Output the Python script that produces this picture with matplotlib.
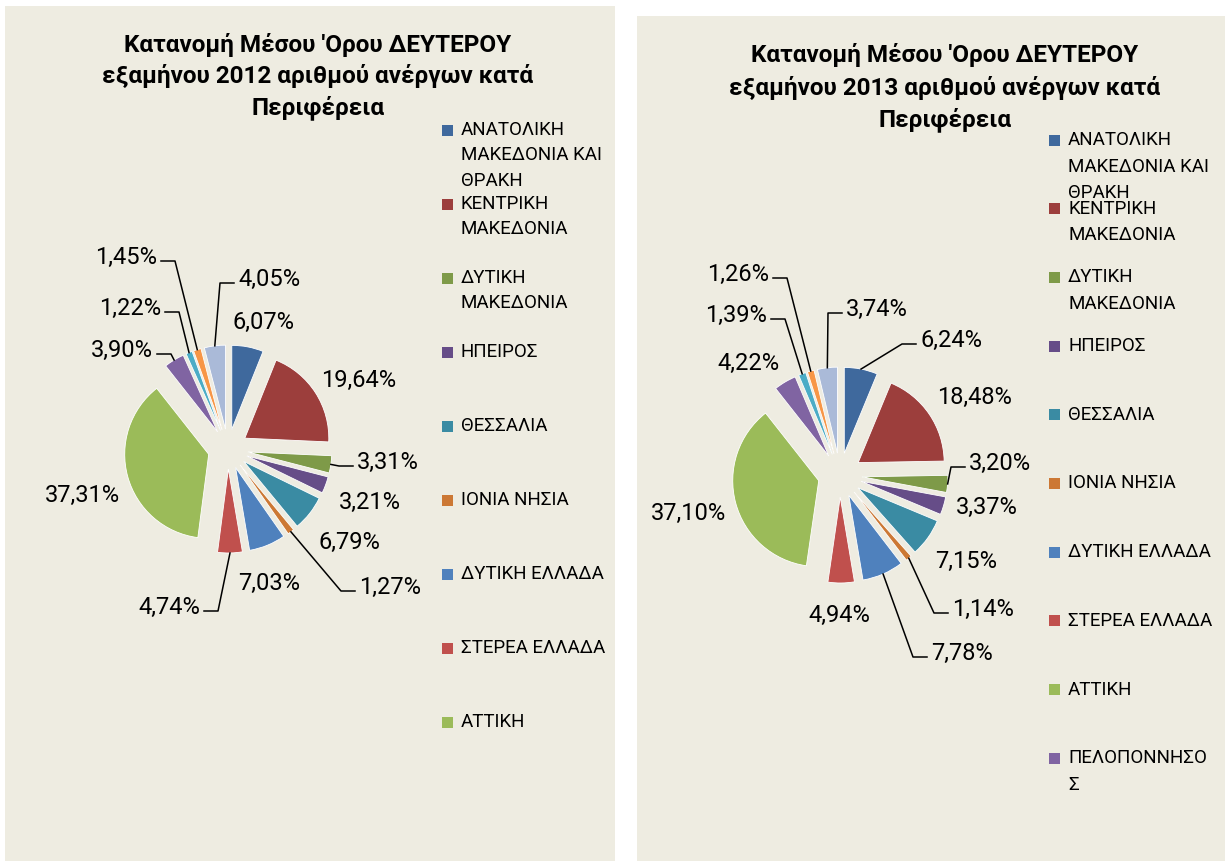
import numpy as np
import matplotlib
matplotlib.use("Agg")
import matplotlib.pyplot as plt
from matplotlib.patches import Rectangle

plt.rcParams['font.family'] = ['Roboto', 'DejaVu Sans']

# Περιφέρειες (σειρά των φετών, δεξιόστροφα από πάνω)
regions = ["ΑΝΑΤΟΛΙΚΗ ΜΑΚΕΔΟΝΙΑ ΚΑΙ ΘΡΑΚΗ", "ΚΕΝΤΡΙΚΗ ΜΑΚΕΔΟΝΙΑ", "ΔΥΤΙΚΗ ΜΑΚΕΔΟΝΙΑ",
           "ΗΠΕΙΡΟΣ", "ΘΕΣΣΑΛΙΑ", "ΙΟΝΙΑ ΝΗΣΙΑ", "ΔΥΤΙΚΗ ΕΛΛΑΔΑ", "ΣΤΕΡΕΑ ΕΛΛΑΔΑ",
           "ΑΤΤΙΚΗ", "ΠΕΛΟΠΟΝΝΗΣΟΣ", "ΒΟΡΕΙΟ ΑΙΓΑΙΟ", "ΝΟΤΙΟ ΑΙΓΑΙΟ", "ΚΡΗΤΗ"]
legend_names = ["ΑΝΑΤΟΛΙΚΗ\nΜΑΚΕΔΟΝΙΑ ΚΑΙ\nΘΡΑΚΗ", "ΚΕΝΤΡΙΚΗ\nΜΑΚΕΔΟΝΙΑ", "ΔΥΤΙΚΗ\nΜΑΚΕΔΟΝΙΑ",
                "ΗΠΕΙΡΟΣ", "ΘΕΣΣΑΛΙΑ", "ΙΟΝΙΑ ΝΗΣΙΑ", "ΔΥΤΙΚΗ ΕΛΛΑΔΑ", "ΣΤΕΡΕΑ ΕΛΛΑΔΑ",
                "ΑΤΤΙΚΗ", "ΠΕΛΟΠΟΝΝΗΣΟ\nΣ", "ΒΟΡΕΙΟ ΑΙΓΑΙΟ", "ΝΟΤΙΟ ΑΙΓΑΙΟ", "ΚΡΗΤΗ"]

share_2012 = [6.07, 19.64, 3.31, 3.21, 6.79, 1.27, 7.03, 4.74, 37.31, 3.90, 1.22, 1.45, 4.05]
share_2013 = [6.24, 18.48, 3.20, 3.37, 7.15, 1.14, 7.78, 4.94, 37.10, 4.22, 1.39, 1.26, 3.74]

colors = ["#3F699D", "#9C3E3C", "#7E9A48", "#664D88", "#3A8BA3", "#CC7834",
          "#4F81BD", "#C0504D", "#9BBB59", "#8064A2", "#4BACC6", "#F79646", "#AABAD8"]

BG = "#EEECE1"
W, H = 1225, 861

# θέσεις ετικετών (x, y, στοίχιση, γραμμή οδηγός) σε pixel
labels_2012 = [(232, 322, "left", False), (321, 380, "left", False), (357, 462, "left", True),
               (339, 502, "left", False), (319, 542, "left", False), (359, 587, "left", True),
               (238, 583, "left", False), (200, 607, "right", True), (120, 495, "right", False),
               (153, 350, "right", True), (161, 308, "right", True), (157, 257, "right", True),
               (238, 279, "left", True)]
labels_2013 = [(920, 340, "left", True), (937, 397, "left", False), (969, 463, "left", True),
               (956, 507, "left", False), (935, 561, "left", False), (952, 609, "left", True),
               (931, 653, "left", True), (808, 615, "left", False), (726, 513, "right", False),
               (780, 363, "right", False), (767, 315, "right", True), (769, 274, "right", True),
               (846, 309, "left", True)]

panels = [
    dict(year=2012, values=share_2012, labels=labels_2012, box=(5, 6, 615, 861),
         center=(228, 449), radius=84, explode=20, title_x=318, title_y=45, title_gap=31.5,
         leg_x=442, leg_y=130, leg_pitch=74, leg_line=25.5, n_leg=9),
    dict(year=2013, values=share_2013, labels=labels_2013, box=(637, 16, 1225, 861),
         center=(840, 475), radius=86, explode=22, title_x=945, title_y=55, title_gap=32.5,
         leg_x=1049, leg_y=140, leg_pitch=68.7, leg_line=26.5, n_leg=10),
]

fig = plt.figure(figsize=(W / 100, H / 100), dpi=100)
fig.patch.set_facecolor("white")
ax = fig.add_axes([0, 0, 1, 1])

for p in panels:
    x0, y0, x1, y1 = p["box"]
    ax.add_patch(Rectangle((x0, y0), x1 - x0, y1 - y0, facecolor=BG, edgecolor="none", zorder=0))

    # explode in matplotlib is in data units (pixels here)
    wedges, _ = ax.pie(p["values"], colors=colors, startangle=-90, counterclock=True,
                       explode=[p["explode"]] * len(p["values"]), radius=p["radius"],
                       center=p["center"], wedgeprops=dict(edgecolor="white", linewidth=0.6))

    # τίτλος
    title_lines = ["Κατανομή Μέσου 'Ορου ΔΕΥΤΕΡΟΥ",
                   f"εξαμήνου {p['year']} αριθμού ανέργων κατά",
                   "Περιφέρεια"]
    for k, line in enumerate(title_lines):
        ax.text(p["title_x"], p["title_y"] + k * p["title_gap"], line, ha="center", va="center",
                fontsize=17.5, fontweight="bold", color="black")

    # υπόμνημα
    for i in range(p["n_leg"]):
        ly = p["leg_y"] + i * p["leg_pitch"]
        ax.add_patch(Rectangle((p["leg_x"], ly - 5.5), 11, 11, facecolor=colors[i], edgecolor="none"))
        for k, line in enumerate(legend_names[i].split("\n")):
            ax.text(p["leg_x"] + 19, ly + k * p["leg_line"], line, ha="left", va="center",
                    fontsize=13.5, color="black")

    # ετικέτες δεδομένων
    for i, (lx, ly, ha, lead) in enumerate(p["labels"]):
        txt = f"{p['values'][i]:.2f}".replace(".", ",") + "%"
        ax.text(lx, ly, txt, ha=ha, va="center", fontsize=17, color="black")
        if lead:
            w = wedges[i]
            mid = np.deg2rad((w.theta1 + w.theta2) / 2)
            axp = w.center[0] + w.r * np.cos(mid)
            ayp = w.center[1] + w.r * np.sin(mid)
            s = 1 if ha == "right" else -1
            yy = ly + 4
            ax.plot([lx + s * 4, lx + s * 18, axp], [yy, yy, ayp], color="black", lw=1.1)

ax.set_xlim(0, W)
ax.set_ylim(H, 0)
ax.axis("off")

fig.savefig("out.png", dpi=100, facecolor="white")
